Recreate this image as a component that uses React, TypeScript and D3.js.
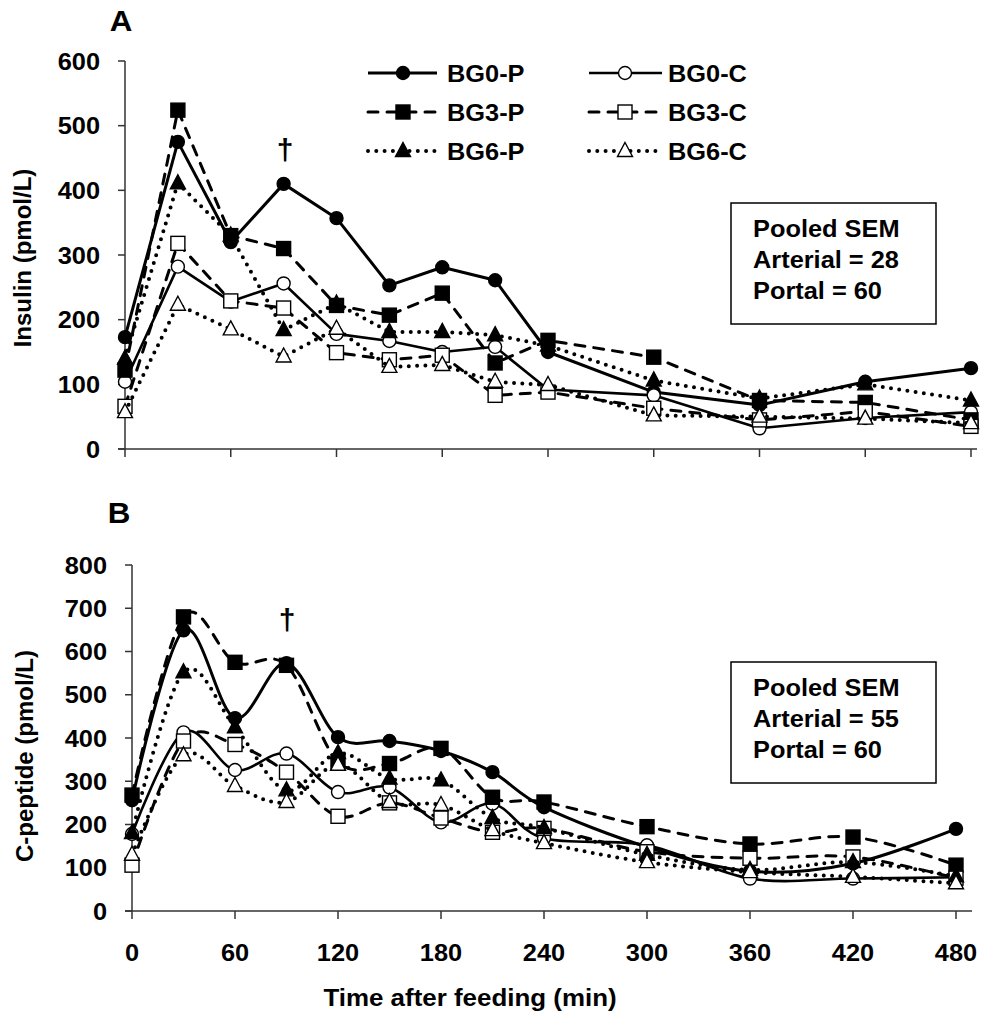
import React from 'react';
import * as d3 from 'd3';

// ---------- data ----------
const times = [0, 30, 60, 90, 120, 150, 180, 210, 240, 300, 360, 420, 480];
const xTicks = [0, 60, 120, 180, 240, 300, 360, 420, 480];
const insulinTicks = [0, 100, 200, 300, 400, 500, 600];
const cpepTicks = [0, 100, 200, 300, 400, 500, 600, 700, 800];
const seriesNames = ['BG0-P', 'BG0-C', 'BG3-P', 'BG3-C', 'BG6-P', 'BG6-C'];

// Panel A: insulin (pmol/L)
const insBG0P = [173, 475, 320, 410, 357, 253, 281, 261, 150, 88, 68, 104, 125];
const insBG0C = [104, 282, 228, 256, 178, 167, 150, 158, 92, 83, 32, 48, 57];
const insBG3P = [122, 524, 330, 310, 222, 207, 241, 133, 168, 142, 75, 72, 45];
const insBG3C = [66, 318, 229, 218, 149, 138, 145, 83, 88, 63, 45, 58, 35];
const insBG6P = [140, 411, 330, 184, 225, 181, 181, 176, 160, 106, 78, 100, 75];
const insBG6C = [57, 223, 185, 143, 186, 127, 130, 104, 99, 52, 50, 47, 40];

// Panel B: C-peptide (pmol/L)
const cpBG0P = [256, 649, 446, 573, 402, 393, 370, 321, 240, 148, 92, 110, 190];
const cpBG0C = [178, 413, 326, 364, 275, 286, 205, 248, 168, 152, 75, 75, 78];
const cpBG3P = [268, 680, 575, 568, 345, 341, 376, 263, 252, 195, 155, 171, 106];
const cpBG3C = [106, 393, 385, 321, 219, 250, 215, 182, 191, 137, 122, 125, 76];
const cpBG6P = [180, 552, 425, 279, 365, 306, 302, 215, 192, 130, 95, 113, 80];
const cpBG6C = [130, 360, 289, 252, 338, 252, 245, 187, 157, 113, 90, 79, 64];

const insulinSeries = [insBG0P, insBG0C, insBG3P, insBG3C, insBG6P, insBG6C];
const cpepSeries = [cpBG0P, cpBG0C, cpBG3P, cpBG3C, cpBG6P, cpBG6C];

// ---------- styles ----------
type MarkerType = 'circle' | 'square' | 'triangle';
const seriesStyle: { marker: MarkerType; filled: boolean; dash: string; width: number }[] = [
  { marker: 'circle', filled: true, dash: 'none', width: 3 },
  { marker: 'circle', filled: false, dash: 'none', width: 2.6 },
  { marker: 'square', filled: true, dash: '10,9', width: 3 },
  { marker: 'square', filled: false, dash: '10,9', width: 3 },
  { marker: 'triangle', filled: true, dash: '0,8.3', width: 4 },
  { marker: 'triangle', filled: false, dash: '0,8.3', width: 4 },
];

const FONT = '"Liberation Sans", Arial, Helvetica, sans-serif';
const AXIS = '#333';

function T({ x, y, size, anchor = 'start', children, sx = 1.08, rotate = 0 }: any) {
  return (
    <text
      transform={`translate(${x},${y}) rotate(${rotate}) scale(${sx},1)`}
      fontSize={size}
      fontWeight="bold"
      fontFamily={FONT}
      textAnchor={anchor}
      fill="#000"
    >
      {children}
    </text>
  );
}

function Marker({ type, filled, x, y }: { type: MarkerType; filled: boolean; x: number; y: number }) {
  const fill = filled ? '#000' : '#fff';
  const sw = 1.4;
  if (type === 'circle') return <circle cx={x} cy={y} r={6.5} fill={fill} stroke="#000" strokeWidth={sw} />;
  if (type === 'square') return <rect x={x - 7} y={y - 7} width={14} height={14} fill={fill} stroke="#000" strokeWidth={sw} />;
  return <path d={`M${x},${y - 8.5}L${x + 7.5},${y + 5.5}L${x - 7.5},${y + 5.5}Z`} fill={fill} stroke="#000" strokeWidth={sw} />;
}

function Panel({
  xRange, yRange, yMax, yTicks, series, curve, labelX, xAxisEnd,
}: any) {
  const x = d3.scaleLinear().domain([0, 480]).range(xRange);
  const y = d3.scaleLinear().domain([0, yMax]).range(yRange);
  const line = d3
    .line<number>()
    .x((_, i) => x(times[i]))
    .y((d) => y(d))
    .curve(curve);
  const x0 = x(0);
  const y0 = y(0);
  return (
    <g>
      {/* axes */}
      <line x1={x0} x2={x0} y1={y(yMax)} y2={y0} stroke={AXIS} strokeWidth={1.5} />
      <line x1={x0 - 7} x2={xAxisEnd} y1={y0} y2={y0} stroke={AXIS} strokeWidth={1.5} />
      {yTicks.map((t: number) => (
        <g key={'y' + t}>
          <line x1={x0 - 7} x2={x0} y1={y(t)} y2={y(t)} stroke={AXIS} strokeWidth={1.5} />
          <T x={x0 - 25} y={y(t) + 8.5} size={23.5} anchor="end">{t}</T>
        </g>
      ))}
      {xTicks.map((t) => (
        <g key={'x' + t}>
          <line x1={x(t)} x2={x(t)} y1={y0} y2={y0 + 8} stroke={AXIS} strokeWidth={1.5} />
          {labelX && <T x={x(t)} y={y0 + 50} size={23.5} anchor="middle">{t}</T>}
        </g>
      ))}
      {/* series */}
      {series.map((vals: number[], si: number) => {
        const st = seriesStyle[si];
        return (
          <g key={si}>
            <path
              d={line(vals) || ''}
              fill="none"
              stroke="#000"
              strokeWidth={st.width}
              strokeDasharray={st.dash === 'none' ? undefined : st.dash}
              strokeLinecap={st.dash === 'none' ? 'butt' : 'round'}
              strokeLinejoin="round"
            />
            {vals.map((v, i) => (
              <Marker key={i} type={st.marker} filled={st.filled} x={x(times[i])} y={y(v)} />
            ))}
          </g>
        );
      })}
    </g>
  );
}

function Legend() {
  const rows = [73, 112, 151];
  const cols = [
    { x1: 368, x2: 437, mx: 403, tx: 447 },
    { x1: 589, x2: 662, mx: 625, tx: 668 },
  ];
  return (
    <g>
      {seriesNames.map((name, i) => {
        const r = rows[Math.floor(i / 2)];
        const c = cols[i % 2];
        const st = seriesStyle[i];
        return (
          <g key={name}>
            <line
              x1={c.x1}
              x2={c.x2}
              y1={r}
              y2={r}
              stroke="#000"
              strokeWidth={st.width}
              strokeDasharray={st.dash === 'none' ? undefined : st.dash}
              strokeLinecap={st.dash === 'none' ? 'butt' : 'round'}
            />
            <Marker type={st.marker} filled={st.filled} x={c.mx} y={r} />
            <T x={c.tx} y={r + 8.5} size={23.5}>{name}</T>
          </g>
        );
      })}
    </g>
  );
}

function SemBox({ top, arterial }: { top: number; arterial: number }) {
  return (
    <g>
      <rect x={731} y={top} width={205} height={121} fill="#fff" stroke="#000" strokeWidth={1.5} />
      <T x={753} y={top + 34} size={23.5}>Pooled SEM</T>
      <T x={753} y={top + 65} size={23.5}>{`Arterial = ${arterial}`}</T>
      <T x={753} y={top + 96} size={23.5}>Portal = 60</T>
    </g>
  );
}

export default function App() {
  return (
    <svg width={981} height={1016} style={{ position: 'absolute', left: 0, top: 0, background: '#fff' }}>
      <rect width={981} height={1016} fill="#fff" />
      {/* Panel A */}
      <T x={121} y={31} size={29} anchor="middle">A</T>
      <Panel
        xRange={[125, 971]}
        yRange={[449, 61]}
        yMax={600}
        yTicks={insulinTicks}
        series={insulinSeries}
        curve={d3.curveLinear}
        labelX={false}
        xAxisEnd={977}
      />
      <T x={31} y={258} size={24} anchor="middle" rotate={-90} sx={1}>Insulin (pmol/L)</T>
      <T x={285} y={160} size={30} anchor="middle" sx={1}>†</T>
      <Legend />
      <SemBox top={203} arterial={28} />

      {/* Panel B */}
      <T x={119} y={523} size={29} anchor="middle">B</T>
      <Panel
        xRange={[132, 956]}
        yRange={[911, 565]}
        yMax={800}
        yTicks={cpepTicks}
        series={cpepSeries}
        curve={d3.curveCardinal.tension(0)}
        labelX={true}
        xAxisEnd={972}
      />
      <T x={33} y={756} size={24} anchor="middle" rotate={-90} sx={1}>C-peptide (pmol/L)</T>
      <T x={287} y={630} size={30} anchor="middle" sx={1}>†</T>
      <SemBox top={662} arterial={55} />
      <T x={470} y={1006} size={24} anchor="middle">Time after feeding (min)</T>
    </svg>
  );
}
